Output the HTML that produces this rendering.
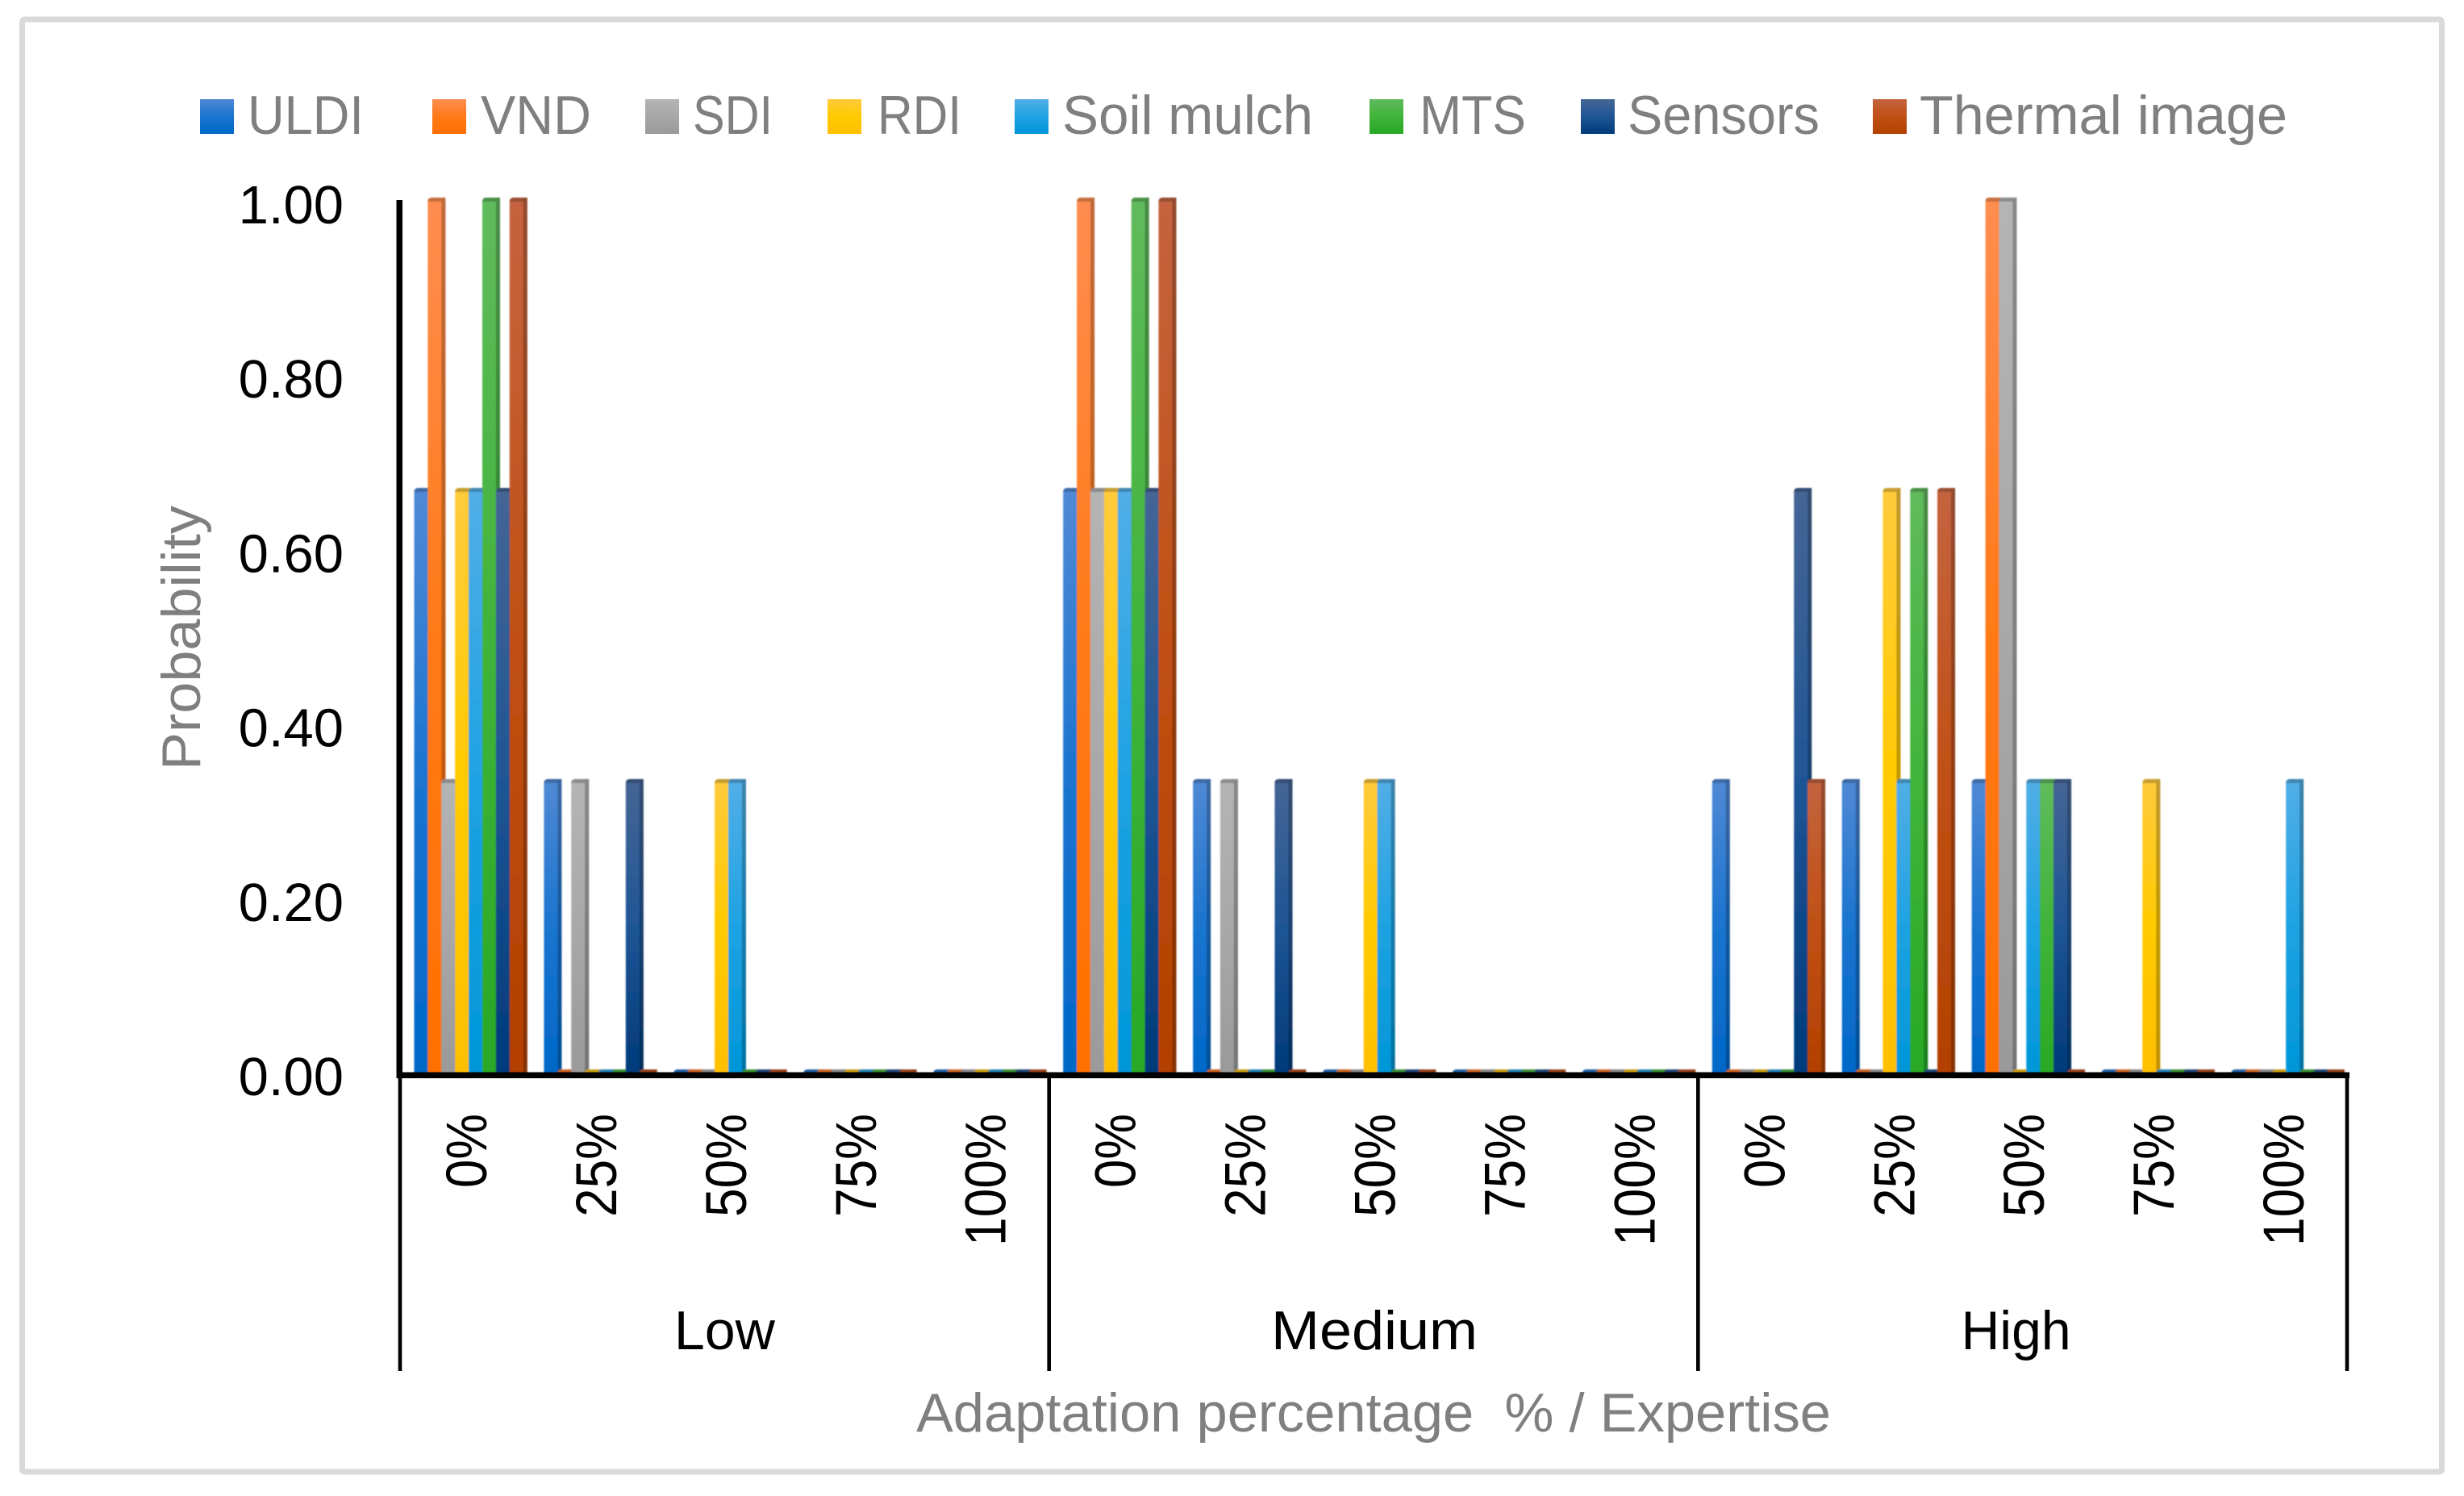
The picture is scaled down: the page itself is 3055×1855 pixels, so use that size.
<!DOCTYPE html>
<html lang="en">
<head>
<meta charset="utf-8">
<title>Probability by adaptation percentage and expertise</title>
<style>
  html, body { margin: 0; padding: 0; background: #fff; }
  svg { display: block; font-family: "Liberation Sans", sans-serif; }
  .legend-text { font-size: 68px; fill: #7f7f7f; }
  .axis-title { font-size: 68px; fill: #7f7f7f; white-space: pre; }
</style>
</head>
<body>
<svg id="chart" xmlns="http://www.w3.org/2000/svg" width="3055" height="1855" viewBox="0 0 3055 1855">
  <defs id="defs">
    <filter id="soft" x="-10%" y="-2%" width="120%" height="104%"><feGaussianBlur stdDeviation="0.7"/></filter>
    <linearGradient id="g0" x1="0" y1="0" x2="0" y2="1"><stop offset="0" stop-color="#5089d5"/><stop offset=".5" stop-color="#1a74cf"/><stop offset="1" stop-color="#0068c8"/></linearGradient>
    <linearGradient id="g1" x1="0" y1="0" x2="0" y2="1"><stop offset="0" stop-color="#ff8d50"/><stop offset=".5" stop-color="#ff7a18"/><stop offset="1" stop-color="#ff7000"/></linearGradient>
    <linearGradient id="g2" x1="0" y1="0" x2="0" y2="1"><stop offset="0" stop-color="#b4b4b4"/><stop offset=".5" stop-color="#a8a8a8"/><stop offset="1" stop-color="#9a9a9a"/></linearGradient>
    <linearGradient id="g3" x1="0" y1="0" x2="0" y2="1"><stop offset="0" stop-color="#ffcb3c"/><stop offset=".5" stop-color="#ffca00"/><stop offset="1" stop-color="#ffbf00"/></linearGradient>
    <linearGradient id="g4" x1="0" y1="0" x2="0" y2="1"><stop offset="0" stop-color="#52aee6"/><stop offset=".5" stop-color="#1ea2e2"/><stop offset="1" stop-color="#0096d8"/></linearGradient>
    <linearGradient id="g5" x1="0" y1="0" x2="0" y2="1"><stop offset="0" stop-color="#60ba5c"/><stop offset=".5" stop-color="#40b43a"/><stop offset="1" stop-color="#28a824"/></linearGradient>
    <linearGradient id="g6" x1="0" y1="0" x2="0" y2="1"><stop offset="0" stop-color="#456595"/><stop offset=".5" stop-color="#1f5595"/><stop offset="1" stop-color="#003a7a"/></linearGradient>
    <linearGradient id="g7" x1="0" y1="0" x2="0" y2="1"><stop offset="0" stop-color="#c4633f"/><stop offset=".5" stop-color="#c05015"/><stop offset="1" stop-color="#b24000"/></linearGradient>
  </defs>

  <rect x="0" y="0" width="3055" height="1855" fill="#ffffff"/>
  <rect x="27.5" y="24" width="3000" height="1801" rx="3" fill="#ffffff" stroke="#d9d9d9" stroke-width="7"/>

  <g>
    <g>
      <rect x="248" y="123" width="42" height="43" fill="url(#g0)"/>
      <text class="legend-text" x="307" y="166" textLength="144" lengthAdjust="spacingAndGlyphs">ULDI</text>
    </g>
    <g>
      <rect x="536" y="123" width="42" height="43" fill="url(#g1)"/>
      <text class="legend-text" x="596" y="166" textLength="137" lengthAdjust="spacingAndGlyphs">VND</text>
    </g>
    <g>
      <rect x="800" y="123" width="42" height="43" fill="url(#g2)"/>
      <text class="legend-text" x="859" y="166" textLength="99" lengthAdjust="spacingAndGlyphs">SDI</text>
    </g>
    <g>
      <rect x="1026" y="123" width="42" height="43" fill="url(#g3)"/>
      <text class="legend-text" x="1088" y="166" textLength="104" lengthAdjust="spacingAndGlyphs">RDI</text>
    </g>
    <g>
      <rect x="1258" y="123" width="42" height="43" fill="url(#g4)"/>
      <text class="legend-text" x="1317" y="166" textLength="311" lengthAdjust="spacingAndGlyphs">Soil mulch</text>
    </g>
    <g>
      <rect x="1698" y="123" width="42" height="43" fill="url(#g5)"/>
      <text class="legend-text" x="1760" y="166" textLength="132" lengthAdjust="spacingAndGlyphs">MTS</text>
    </g>
    <g>
      <rect x="1960" y="123" width="42" height="43" fill="url(#g6)"/>
      <text class="legend-text" x="2018" y="166" textLength="238" lengthAdjust="spacingAndGlyphs">Sensors</text>
    </g>
    <g>
      <rect x="2322" y="123" width="42" height="43" fill="url(#g7)"/>
      <text class="legend-text" x="2380" y="166" textLength="456" lengthAdjust="spacingAndGlyphs">Thermal image</text>
    </g>
  </g>

  <text class="axis-title" transform="translate(248 955) rotate(-90)" x="0" y="0" textLength="328" lengthAdjust="spacingAndGlyphs">Probability</text>
  <text class="axis-title" x="1136" y="1775" textLength="1134" lengthAdjust="spacingAndGlyphs" xml:space="preserve">Adaptation percentage  % / Expertise</text>

  <g id="y-ticks"></g>
  <g id="bars" filter="url(#soft)"></g>
  <g id="axes"></g>
  <g id="x-labels"></g>
</svg>

<script>
// ---- Chart data ----
const groups = ["Low", "Medium", "High"];
const categories = ["0%", "25%", "50%", "75%", "100%"];
const yTicks = [0, 0.2, 0.4, 0.6, 0.8, 1];
const seriesNames = ["uldi", "vnd", "sdi", "rdi", "soil-mulch", "mts", "sensors", "thermal-image"];

const uldi    = [0.667, 0.333, 0, 0, 0,  0.667, 0.333, 0, 0, 0,  0.333, 0.333, 0.333, 0, 0];
const vnd     = [1, 0, 0, 0, 0,  1, 0, 0, 0, 0,  0, 0, 1, 0, 0];
const sdi     = [0.333, 0.333, 0, 0, 0,  0.667, 0.333, 0, 0, 0,  0, 0, 1, 0, 0];
const rdi     = [0.667, 0, 0.333, 0, 0,  0.667, 0, 0.333, 0, 0,  0, 0.667, 0, 0.333, 0];
const soil    = [0.667, 0, 0.333, 0, 0,  0.667, 0, 0.333, 0, 0,  0, 0.333, 0.333, 0, 0.333];
const mts     = [1, 0, 0, 0, 0,  1, 0, 0, 0, 0,  0, 0.667, 0.333, 0, 0];
const sensors = [0.667, 0.333, 0, 0, 0,  0.667, 0.333, 0, 0, 0,  0.667, 0, 0.333, 0, 0];
const thermal = [1, 0, 0, 0, 0,  1, 0, 0, 0, 0,  0.333, 0.667, 0, 0, 0];

const seriesValues = [uldi, vnd, sdi, rdi, soil, mts, sensors, thermal];

// ---- Layout ----
const NS = "http://www.w3.org/2000/svg";
const plotLeft = 496, plotRight = 2910;
const catWidth = (plotRight - plotLeft) / (groups.length * categories.length);
const barStep = 16.9, barWidth = 22, barPad = 17.5;
const barBottom = 1331;

function yBar(v) { return 1326 - v * 1081; }
function yTickBaseline(v) { return 277 + (1 - v) * 1081; }
function xCat(i) { return plotLeft + i * catWidth; }
function xBar(catIndex, seriesIndex) { return xCat(catIndex) + barPad + seriesIndex * barStep; }

function make(tag, attrs, parent) {
  const el = document.createElementNS(NS, tag);
  for (const k in attrs) el.setAttribute(k, attrs[k]);
  parent.appendChild(el);
  return el;
}

// ---- Y tick labels ----
const yTickGroup = document.getElementById("y-ticks");
yTicks.forEach(function (v) {
  const t = make("text", { x: 426, y: yTickBaseline(v), "text-anchor": "end", "font-size": 67, fill: "#000" }, yTickGroup);
  
  
  t.textContent = v.toFixed(2);
});

// ---- Bars ----
const barGroup = document.getElementById("bars");
seriesValues.forEach(function (values, s) {
  const g = make("g", {}, barGroup);
  
  
  values.forEach(function (v, c) {
    const x = xBar(c, s), t = yBar(v), w = barWidth, b = barBottom;
    const r = 5;
    const face = make("path", {
      d: "M" + x + " " + b + "V" + (t + r) + "Q" + x + " " + t + " " + (x + r) + " " + t + "H" + (x + w) + "V" + b + "Z",
      fill: "url(#g" + s + ")"
    }, g);
    
    
    const side = make("rect", { x: x + w - 5, y: t, width: 5, height: b - t, fill: "#000", "fill-opacity": 0.25 }, g);
    
    
    const capH = Math.min(5, b - t);
    const cap = make("path", {
      d: "M" + x + " " + (t + capH) + "Q" + x + " " + t + " " + (x + r) + " " + t + "H" + (x + w - 5) + "V" + (t + capH) + "Z",
      fill: "#000", "fill-opacity": 0.22
    }, g);
    
    
  });
});

// ---- Axes ----
const axisGroup = document.getElementById("axes");
const yAxis = make("rect", { x: 491.5, y: yBar(1) + 3, width: 7.5, height: 1333 - yBar(1) - 3, fill: "#000" }, axisGroup);


const xAxis = make("rect", { x: 491.5, y: 1329.5, width: plotRight + 3 - 491.5, height: 7.5, fill: "#000" }, axisGroup);


for (let g = 0; g <= groups.length; g++) {
  const sx = plotLeft + g * categories.length * catWidth;
  const sep = make("rect", { x: sx - 2.3, y: 1333, width: 4.6, height: 367, fill: "#000" }, axisGroup);
  
  
}

// ---- X labels ----
const xLabelGroup = document.getElementById("x-labels");
const groupLabelWidth = { Low: 125, Medium: 256, High: 136 };
const groupLabelNudge = { Low: 0, Medium: 1, High: -8 };
groups.forEach(function (name, g) {
  categories.forEach(function (label, c) {
    const i = g * categories.length + c;
    const px = xCat(i) + 107;
    const t = make("text", {
      transform: "translate(" + px + " 1381) rotate(-90)",
      x: 0, y: 0, "text-anchor": "end", "font-size": 71, fill: "#000",
      textLength: 92 + 36 * (label.length - 2),
      lengthAdjust: "spacingAndGlyphs"
    }, xLabelGroup);
    
    
    t.textContent = label;
  });
  const cx = xCat(g * categories.length) + categories.length * catWidth / 2 + groupLabelNudge[name];
  const gl = make("text", {
    x: cx, y: 1673, "text-anchor": "middle", "font-size": 68, fill: "#000",
    textLength: groupLabelWidth[name],
    lengthAdjust: "spacingAndGlyphs"
  }, xLabelGroup);
  
  
  gl.textContent = name;
});
</script>
</body>
</html>
